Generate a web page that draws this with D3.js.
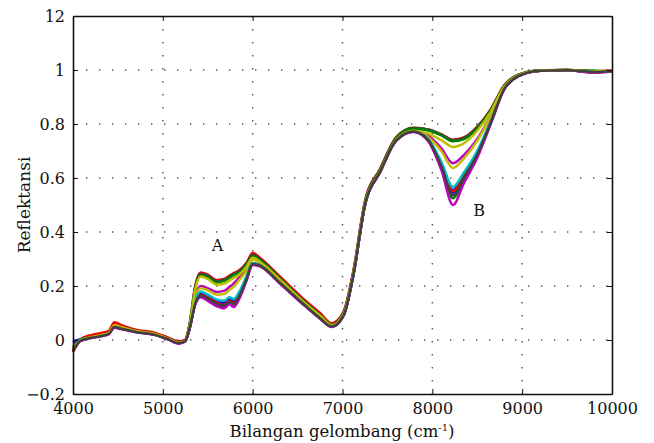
<!DOCTYPE html>
<html>
<head>
<meta charset="utf-8">
<style>
  body { margin: 0; background: #fff; }
  text { font-family: "DejaVu Serif", serif; fill: #111; }
</style>
<script src="https://cdn.jsdelivr.net/npm/d3@7"></script>
</head>
<body>
<svg id="chart" width="654" height="443"></svg>
<script>
// wavenumbers (cm-1) shared by every spectrum
const wavenumber = [4000, 4080, 4200, 4330, 4400, 4460, 4540, 4700, 4900, 5050, 5180, 5250, 5300, 5360, 5420, 5500, 5600, 5680, 5740, 5790, 5850, 5930, 6000, 6080, 6300, 6550, 6750, 6880, 7010, 7120, 7250, 7420, 7600, 7790, 7950, 8100, 8230, 8350, 8500, 8650, 8800, 8950, 9200, 9500, 9800, 10000]

// reflectance spectra
const s01 = [-0.01, 0.001, 0.01, 0.018, 0.025, 0.05, 0.044, 0.031, 0.021, 0.005, -0.011, -0.003, 0.047, 0.14, 0.172, 0.16, 0.142, 0.135, 0.15, 0.142, 0.168, 0.228, 0.283, 0.276, 0.213, 0.138, 0.081, 0.05, 0.09, 0.24, 0.5, 0.624, 0.74, 0.772, 0.743, 0.65, 0.545, 0.605, 0.69, 0.806, 0.93, 0.976, 0.997, 0.999, 0.993, 0.995]
const s02 = [-0.03, 0.0, 0.01, 0.018, 0.025, 0.053, 0.046, 0.032, 0.022, 0.005, -0.011, -0.003, 0.045, 0.133, 0.162, 0.15, 0.13, 0.122, 0.137, 0.128, 0.158, 0.222, 0.28, 0.275, 0.212, 0.137, 0.08, 0.049, 0.09, 0.24, 0.5, 0.624, 0.74, 0.772, 0.742, 0.64, 0.525, 0.595, 0.684, 0.804, 0.93, 0.976, 0.997, 0.999, 0.993, 0.995]
const s03 = [-0.035, 0.002, 0.018, 0.027, 0.034, 0.066, 0.055, 0.038, 0.028, 0.01, -0.005, 0.002, 0.065, 0.2, 0.25, 0.242, 0.222, 0.226, 0.238, 0.248, 0.258, 0.285, 0.322, 0.305, 0.236, 0.157, 0.1, 0.062, 0.104, 0.255, 0.515, 0.635, 0.752, 0.786, 0.78, 0.762, 0.742, 0.75, 0.79, 0.855, 0.943, 0.982, 0.998, 1.0, 0.995, 0.998]
const s04 = [-0.03, 0.0, 0.01, 0.02, 0.027, 0.055, 0.047, 0.033, 0.023, 0.006, -0.01, -0.002, 0.058, 0.19, 0.242, 0.236, 0.215, 0.22, 0.232, 0.242, 0.252, 0.278, 0.312, 0.295, 0.226, 0.147, 0.09, 0.054, 0.096, 0.245, 0.505, 0.628, 0.747, 0.782, 0.778, 0.76, 0.738, 0.745, 0.785, 0.85, 0.94, 0.98, 0.998, 1.0, 0.996, 0.995]
const s05 = [-0.035, -0.002, 0.009, 0.018, 0.025, 0.05, 0.044, 0.031, 0.021, 0.005, -0.011, -0.003, 0.05, 0.16, 0.2, 0.192, 0.178, 0.182, 0.196, 0.21, 0.232, 0.262, 0.3, 0.288, 0.222, 0.145, 0.088, 0.053, 0.095, 0.245, 0.505, 0.628, 0.745, 0.778, 0.758, 0.71, 0.655, 0.685, 0.745, 0.83, 0.935, 0.978, 0.997, 1.0, 0.99, 0.995]
const s06 = [-0.035, -0.002, 0.009, 0.018, 0.025, 0.05, 0.044, 0.031, 0.021, 0.005, -0.011, -0.003, 0.05, 0.155, 0.192, 0.184, 0.168, 0.17, 0.185, 0.198, 0.222, 0.255, 0.298, 0.286, 0.22, 0.144, 0.087, 0.052, 0.094, 0.243, 0.503, 0.626, 0.742, 0.775, 0.752, 0.7, 0.637, 0.672, 0.738, 0.828, 0.934, 0.978, 0.997, 1.0, 0.993, 0.995]
const s07 = [-0.025, 0.001, 0.012, 0.022, 0.029, 0.058, 0.05, 0.035, 0.025, 0.008, -0.008, 0.0, 0.06, 0.195, 0.245, 0.238, 0.218, 0.222, 0.235, 0.245, 0.255, 0.282, 0.316, 0.3, 0.23, 0.15, 0.094, 0.057, 0.1, 0.25, 0.51, 0.632, 0.75, 0.785, 0.78, 0.761, 0.74, 0.748, 0.788, 0.852, 0.942, 0.981, 0.999, 1.0, 0.994, 0.996]
const s08 = [-0.005, 0.002, 0.01, 0.018, 0.025, 0.05, 0.044, 0.031, 0.021, 0.005, -0.011, -0.003, 0.048, 0.142, 0.176, 0.165, 0.146, 0.14, 0.155, 0.148, 0.172, 0.23, 0.284, 0.277, 0.214, 0.139, 0.082, 0.05, 0.09, 0.24, 0.5, 0.624, 0.74, 0.772, 0.744, 0.655, 0.555, 0.612, 0.695, 0.808, 0.93, 0.976, 0.997, 0.999, 0.993, 0.995]
const s09 = [-0.03, 0.0, 0.012, 0.021, 0.028, 0.06, 0.05, 0.035, 0.025, 0.007, -0.009, -0.001, 0.058, 0.19, 0.24, 0.233, 0.213, 0.218, 0.23, 0.24, 0.25, 0.277, 0.31, 0.296, 0.228, 0.149, 0.092, 0.056, 0.098, 0.248, 0.508, 0.63, 0.748, 0.783, 0.777, 0.758, 0.736, 0.744, 0.784, 0.85, 0.94, 0.98, 0.998, 1.0, 0.997, 0.994]
const s10 = [-0.045, -0.004, 0.012, 0.022, 0.03, 0.06, 0.05, 0.035, 0.025, 0.007, -0.01, -0.002, 0.047, 0.138, 0.168, 0.157, 0.138, 0.13, 0.145, 0.138, 0.165, 0.226, 0.283, 0.277, 0.215, 0.14, 0.084, 0.052, 0.092, 0.242, 0.5, 0.624, 0.74, 0.772, 0.743, 0.652, 0.55, 0.607, 0.692, 0.807, 0.93, 0.976, 0.997, 0.999, 0.994, 0.996]
const s11 = [-0.04, -0.003, 0.008, 0.016, 0.023, 0.048, 0.042, 0.03, 0.02, 0.004, -0.012, -0.004, 0.048, 0.145, 0.18, 0.168, 0.15, 0.145, 0.158, 0.152, 0.178, 0.235, 0.285, 0.278, 0.214, 0.139, 0.082, 0.049, 0.09, 0.24, 0.5, 0.624, 0.74, 0.772, 0.745, 0.66, 0.567, 0.62, 0.7, 0.81, 0.93, 0.976, 0.997, 0.999, 0.992, 0.995]
const s12 = [-0.04, -0.003, 0.007, 0.015, 0.022, 0.045, 0.04, 0.029, 0.019, 0.003, -0.013, -0.005, 0.044, 0.13, 0.158, 0.145, 0.125, 0.117, 0.132, 0.122, 0.152, 0.218, 0.278, 0.273, 0.21, 0.135, 0.079, 0.048, 0.088, 0.238, 0.498, 0.622, 0.738, 0.77, 0.738, 0.63, 0.5, 0.58, 0.675, 0.8, 0.928, 0.975, 0.997, 0.999, 0.99, 0.994]
const s13 = [-0.03, 0.0, 0.01, 0.02, 0.027, 0.055, 0.047, 0.033, 0.023, 0.006, -0.01, -0.002, 0.055, 0.185, 0.235, 0.226, 0.205, 0.208, 0.22, 0.23, 0.242, 0.27, 0.305, 0.29, 0.224, 0.146, 0.09, 0.054, 0.095, 0.245, 0.505, 0.625, 0.742, 0.775, 0.765, 0.74, 0.715, 0.728, 0.775, 0.845, 0.938, 0.979, 0.998, 1.0, 0.995, 0.996]
const s14 = [-0.04, -0.003, 0.008, 0.016, 0.023, 0.048, 0.042, 0.03, 0.02, 0.004, -0.012, -0.004, 0.046, 0.135, 0.165, 0.153, 0.134, 0.127, 0.142, 0.134, 0.162, 0.224, 0.282, 0.276, 0.213, 0.138, 0.081, 0.05, 0.09, 0.24, 0.5, 0.624, 0.74, 0.772, 0.742, 0.645, 0.535, 0.6, 0.687, 0.805, 0.93, 0.976, 0.997, 0.999, 0.993, 0.995]

const spectra = [s01, s02, s03, s04, s05, s06, s07, s08, s09, s10, s11, s12, s13, s14]

// matlab style colour cycle
const lineColors = ["#0000ff", "#008000", "#ff0000", "#00bfbf", "#bf00bf", "#bfbf00", "#404040"]

const xTicks = [4000, 5000, 6000, 7000, 8000, 9000, 10000]
const yTicks = [-0.2, 0, 0.2, 0.4, 0.6, 0.8, 1, 1.2]
const yTickLabels = ["\u22120.2", "0", "0.2", "0.4", "0.6", "0.8", "1", "12"]

const svg = d3.select("#chart")
const mLeft = 73, mRight = 612, mTop = 16, mBottom = 394

let x = d3.scaleLinear().domain([4000, 10000]).range([mLeft, mRight])
let y = d3.scaleLinear().domain([-0.2, 1.2]).range([mBottom, mTop])

// dotted grid
let grid = svg.append("g")
grid.selectAll("line.gx")
    .data(xTicks.slice(1, -1))
    .enter().append("line")
    .attr("x1", d => x(d)).attr("x2", d => x(d))
    .attr("y1", mTop).attr("y2", mBottom)
grid.selectAll("line.gy")
    .data(yTicks.slice(1, -1))
    .enter().append("line")
    .attr("x1", mLeft).attr("x2", mRight)
    .attr("y1", d => y(d)).attr("y2", d => y(d))
grid.selectAll("line")
    .attr("stroke", "#555")
    .attr("stroke-width", 1.4)
    .attr("stroke-dasharray", "1.4,11.6")

// spectra
let line = d3.line()
    .x((d, i) => x(wavenumber[i]))
    .y(d => y(d))
    .curve(d3.curveMonotoneX)

svg.append("g").selectAll("path")
    .data(spectra)
    .enter().append("path")
    .attr("d", d => line(d))
    .attr("fill", "none")
    .attr("stroke", (d, i) => lineColors[i % lineColors.length])
    .attr("stroke-width", 2.5)
    .attr("stroke-linejoin", "round")

// axes, ticks inward on every side
let xAxis = d3.axisBottom(x).tickValues(xTicks).tickSizeInner(-5).tickSizeOuter(0).tickPadding(9).tickFormat(d3.format("d"))
let yAxis = d3.axisLeft(y).tickValues(yTicks).tickSizeInner(-5).tickSizeOuter(0).tickPadding(8).tickFormat((d, i) => yTickLabels[i])

svg.append("g").attr("transform", `translate(0,${mBottom})`).call(xAxis)
svg.append("g").attr("transform", `translate(${mLeft},0)`).call(yAxis)
svg.append("g").attr("transform", `translate(0,${mTop})`)
    .call(d3.axisTop(x).tickValues(xTicks).tickSizeInner(-5).tickSizeOuter(0).tickFormat(""))
svg.append("g").attr("transform", `translate(${mRight},0)`)
    .call(d3.axisRight(y).tickValues(yTicks).tickSizeInner(-5).tickSizeOuter(0).tickFormat(""))

svg.selectAll(".domain").attr("stroke", "#111").attr("stroke-width", 1.6)
svg.selectAll(".tick line").attr("stroke", "#111")
svg.selectAll(".tick text")
    .style("font-family", "DejaVu Serif, serif")
    .style("font-size", "16px")
    .attr("fill", "#111")

// axis titles
svg.append("text")
    .attr("x", 342).attr("y", 437)
    .attr("text-anchor", "middle")
    .style("font-size", "16.5px")
    .html('Bilangan gelombang (cm<tspan dy="-6" font-size="10">-1</tspan><tspan dy="6">)</tspan>')

svg.append("text")
    .attr("transform", "translate(30,205) rotate(-90)")
    .attr("text-anchor", "middle")
    .style("font-size", "17px")
    .text("Reflektansi")

// band labels
svg.append("text").attr("x", x(5610)).attr("y", y(0.33)).attr("text-anchor", "middle").style("font-size", "16px").text("A")
svg.append("text").attr("x", x(8520)).attr("y", y(0.46)).attr("text-anchor", "middle").style("font-size", "16px").text("B")
</script>
</body>
</html>
